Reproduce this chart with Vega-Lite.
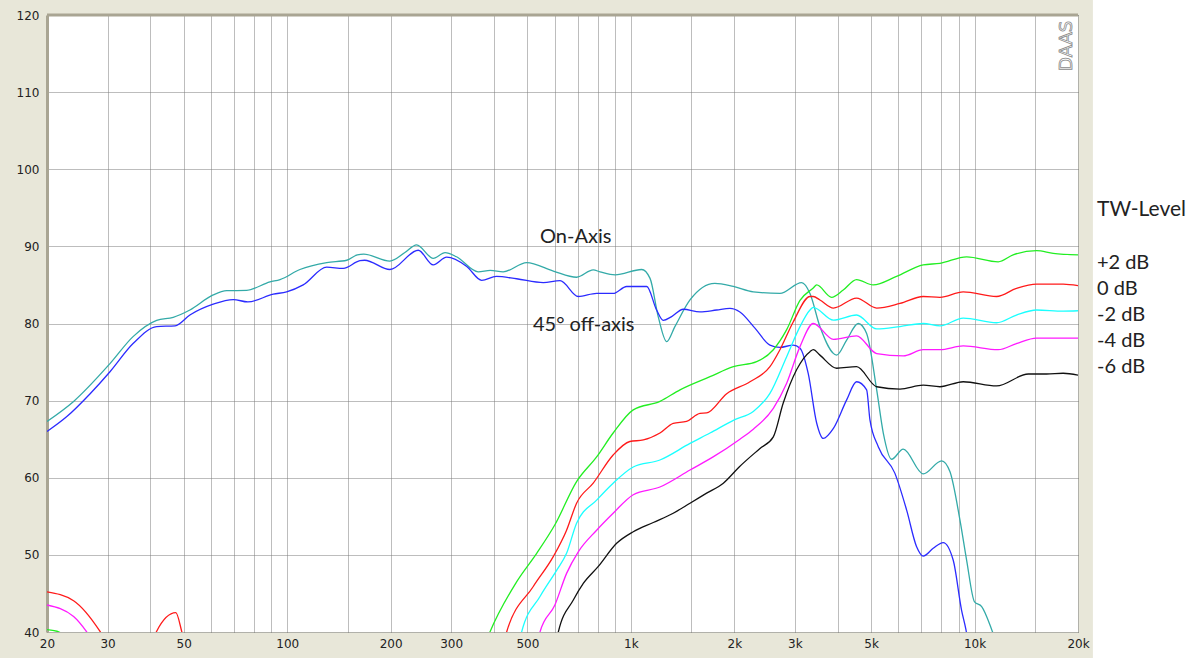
{
  "$schema": "https://vega.github.io/schema/vega-lite/v6.json",
  "width": 1031,
  "height": 617,
  "autosize": {"type": "none"},
  "padding": {"left": 47, "top": 15, "right": 125, "bottom": 26},
  "background": "#e8e7d9",
  "config": {
    "view": {"stroke": null, "fill": "white"},
    "axis": {"labelFont": "DejaVu Sans", "labelFontSize": 12, "labelColor": "#222222"},
    "text": {"font": "Lato"}
  },
  "datasets": {
    "curves": [
      {"series": "On-Axis", "seg": "a", "freq": 20, "db": 67.3},
      {"series": "On-Axis", "seg": "a", "freq": 23.9, "db": 69.9},
      {"series": "On-Axis", "seg": "a", "freq": 30.5, "db": 74.8},
      {"series": "On-Axis", "seg": "a", "freq": 35.6, "db": 78.3},
      {"series": "On-Axis", "seg": "a", "freq": 41.7, "db": 80.4},
      {"series": "On-Axis", "seg": "a", "freq": 46.6, "db": 80.8},
      {"series": "On-Axis", "seg": "a", "freq": 52.1, "db": 81.75},
      {"series": "On-Axis", "seg": "a", "freq": 60.9, "db": 83.7},
      {"series": "On-Axis", "seg": "a", "freq": 66.7, "db": 84.25},
      {"series": "On-Axis", "seg": "a", "freq": 76.2, "db": 84.3},
      {"series": "On-Axis", "seg": "a", "freq": 89.1, "db": 85.4},
      {"series": "On-Axis", "seg": "a", "freq": 95.3, "db": 85.7},
      {"series": "On-Axis", "seg": "a", "freq": 108.9, "db": 87.0},
      {"series": "On-Axis", "seg": "a", "freq": 130.3, "db": 87.9},
      {"series": "On-Axis", "seg": "a", "freq": 149, "db": 88.2},
      {"series": "On-Axis", "seg": "a", "freq": 160, "db": 88.9},
      {"series": "On-Axis", "seg": "a", "freq": 167, "db": 89.0},
      {"series": "On-Axis", "seg": "a", "freq": 199, "db": 88.1},
      {"series": "On-Axis", "seg": "a", "freq": 220, "db": 89.2},
      {"series": "On-Axis", "seg": "a", "freq": 238, "db": 90.2},
      {"series": "On-Axis", "seg": "a", "freq": 266, "db": 88.45},
      {"series": "On-Axis", "seg": "a", "freq": 288, "db": 89.2},
      {"series": "On-Axis", "seg": "a", "freq": 311, "db": 88.65},
      {"series": "On-Axis", "seg": "a", "freq": 359.6, "db": 86.7},
      {"series": "On-Axis", "seg": "a", "freq": 390, "db": 86.9},
      {"series": "On-Axis", "seg": "a", "freq": 425, "db": 86.7},
      {"series": "On-Axis", "seg": "a", "freq": 497.5, "db": 87.9},
      {"series": "On-Axis", "seg": "a", "freq": 594.8, "db": 86.8},
      {"series": "On-Axis", "seg": "a", "freq": 695, "db": 86.0},
      {"series": "On-Axis", "seg": "a", "freq": 777, "db": 86.95},
      {"series": "On-Axis", "seg": "a", "freq": 813, "db": 86.7},
      {"series": "On-Axis", "seg": "a", "freq": 900, "db": 86.3},
      {"series": "On-Axis", "seg": "a", "freq": 1075, "db": 87.0},
      {"series": "On-Axis", "seg": "a", "freq": 1137, "db": 85.85},
      {"series": "On-Axis", "seg": "a", "freq": 1201, "db": 80.9},
      {"series": "On-Axis", "seg": "a", "freq": 1271, "db": 77.65},
      {"series": "On-Axis", "seg": "a", "freq": 1343, "db": 79.6},
      {"series": "On-Axis", "seg": "a", "freq": 1486, "db": 83.05},
      {"series": "On-Axis", "seg": "a", "freq": 1756, "db": 85.2},
      {"series": "On-Axis", "seg": "a", "freq": 1987, "db": 84.8},
      {"series": "On-Axis", "seg": "a", "freq": 2271, "db": 84.1},
      {"series": "On-Axis", "seg": "a", "freq": 2715, "db": 83.9},
      {"series": "On-Axis", "seg": "a", "freq": 3139, "db": 85.3},
      {"series": "On-Axis", "seg": "a", "freq": 3320, "db": 83.9},
      {"series": "On-Axis", "seg": "a", "freq": 3549, "db": 79.6},
      {"series": "On-Axis", "seg": "a", "freq": 3970, "db": 75.9},
      {"series": "On-Axis", "seg": "a", "freq": 4245, "db": 77.85},
      {"series": "On-Axis", "seg": "a", "freq": 4587, "db": 80.0},
      {"series": "On-Axis", "seg": "a", "freq": 4853, "db": 78.7},
      {"series": "On-Axis", "seg": "a", "freq": 5191, "db": 71.4},
      {"series": "On-Axis", "seg": "a", "freq": 5426, "db": 65.8},
      {"series": "On-Axis", "seg": "a", "freq": 5735, "db": 62.4},
      {"series": "On-Axis", "seg": "a", "freq": 6201, "db": 63.7},
      {"series": "On-Axis", "seg": "a", "freq": 7090, "db": 60.5},
      {"series": "On-Axis", "seg": "a", "freq": 8021, "db": 62.2},
      {"series": "On-Axis", "seg": "a", "freq": 8479, "db": 60.8},
      {"series": "On-Axis", "seg": "a", "freq": 9069, "db": 54.5},
      {"series": "On-Axis", "seg": "a", "freq": 9484, "db": 49.3},
      {"series": "On-Axis", "seg": "a", "freq": 10000, "db": 43.9},
      {"series": "On-Axis", "seg": "a", "freq": 10490, "db": 43.3},
      {"series": "On-Axis", "seg": "a", "freq": 11220, "db": 40.3},
      {"series": "On-Axis", "seg": "a", "freq": 11600, "db": 38.5},

      {"series": "45° off-axis", "seg": "a", "freq": 20, "db": 66.0},
      {"series": "45° off-axis", "seg": "a", "freq": 22.8, "db": 67.9},
      {"series": "45° off-axis", "seg": "a", "freq": 26.7, "db": 70.9},
      {"series": "45° off-axis", "seg": "a", "freq": 30.5, "db": 73.75},
      {"series": "45° off-axis", "seg": "a", "freq": 35.6, "db": 77.4},
      {"series": "45° off-axis", "seg": "a", "freq": 41.7, "db": 79.6},
      {"series": "45° off-axis", "seg": "a", "freq": 47.2, "db": 79.7},
      {"series": "45° off-axis", "seg": "a", "freq": 52.1, "db": 81.1},
      {"series": "45° off-axis", "seg": "a", "freq": 60.9, "db": 82.5},
      {"series": "45° off-axis", "seg": "a", "freq": 69.7, "db": 83.1},
      {"series": "45° off-axis", "seg": "a", "freq": 76.8, "db": 82.8},
      {"series": "45° off-axis", "seg": "a", "freq": 91.1, "db": 83.8},
      {"series": "45° off-axis", "seg": "a", "freq": 99.6, "db": 84.1},
      {"series": "45° off-axis", "seg": "a", "freq": 111.3, "db": 85.0},
      {"series": "45° off-axis", "seg": "a", "freq": 130.3, "db": 87.3},
      {"series": "45° off-axis", "seg": "a", "freq": 145.6, "db": 87.15},
      {"series": "45° off-axis", "seg": "a", "freq": 162.8, "db": 88.15},
      {"series": "45° off-axis", "seg": "a", "freq": 168, "db": 88.2},
      {"series": "45° off-axis", "seg": "a", "freq": 199, "db": 87.0},
      {"series": "45° off-axis", "seg": "a", "freq": 240.6, "db": 89.5},
      {"series": "45° off-axis", "seg": "a", "freq": 266, "db": 87.6},
      {"series": "45° off-axis", "seg": "a", "freq": 291, "db": 88.6},
      {"series": "45° off-axis", "seg": "a", "freq": 333, "db": 87.4},
      {"series": "45° off-axis", "seg": "a", "freq": 368, "db": 85.6},
      {"series": "45° off-axis", "seg": "a", "freq": 406, "db": 86.1},
      {"series": "45° off-axis", "seg": "a", "freq": 465, "db": 85.8},
      {"series": "45° off-axis", "seg": "a", "freq": 556, "db": 85.3},
      {"series": "45° off-axis", "seg": "a", "freq": 622, "db": 85.55},
      {"series": "45° off-axis", "seg": "a", "freq": 703, "db": 83.5},
      {"series": "45° off-axis", "seg": "a", "freq": 795, "db": 83.9},
      {"series": "45° off-axis", "seg": "a", "freq": 888, "db": 83.9},
      {"series": "45° off-axis", "seg": "a", "freq": 972, "db": 84.8},
      {"series": "45° off-axis", "seg": "a", "freq": 1112, "db": 84.8},
      {"series": "45° off-axis", "seg": "a", "freq": 1188, "db": 81.75},
      {"series": "45° off-axis", "seg": "a", "freq": 1242, "db": 80.4},
      {"series": "45° off-axis", "seg": "a", "freq": 1314, "db": 80.9},
      {"series": "45° off-axis", "seg": "a", "freq": 1420, "db": 81.85},
      {"series": "45° off-axis", "seg": "a", "freq": 1589, "db": 81.5},
      {"series": "45° off-axis", "seg": "a", "freq": 1777, "db": 81.75},
      {"series": "45° off-axis", "seg": "a", "freq": 1942, "db": 81.95},
      {"series": "45° off-axis", "seg": "a", "freq": 2076, "db": 81.5},
      {"series": "45° off-axis", "seg": "a", "freq": 2296, "db": 79.4},
      {"series": "45° off-axis", "seg": "a", "freq": 2539, "db": 77.2},
      {"series": "45° off-axis", "seg": "a", "freq": 2715, "db": 76.9},
      {"series": "45° off-axis", "seg": "a", "freq": 2967, "db": 77.2},
      {"series": "45° off-axis", "seg": "a", "freq": 3105, "db": 76.8},
      {"series": "45° off-axis", "seg": "a", "freq": 3282, "db": 73.5},
      {"series": "45° off-axis", "seg": "a", "freq": 3472, "db": 67.1},
      {"series": "45° off-axis", "seg": "a", "freq": 3628, "db": 65.1},
      {"series": "45° off-axis", "seg": "a", "freq": 3884, "db": 66.4},
      {"series": "45° off-axis", "seg": "a", "freq": 4245, "db": 70.1},
      {"series": "45° off-axis", "seg": "a", "freq": 4536, "db": 72.45},
      {"series": "45° off-axis", "seg": "a", "freq": 4853, "db": 71.4},
      {"series": "45° off-axis", "seg": "a", "freq": 4962, "db": 67.5},
      {"series": "45° off-axis", "seg": "a", "freq": 5250, "db": 64.0},
      {"series": "45° off-axis", "seg": "a", "freq": 5862, "db": 60.6},
      {"series": "45° off-axis", "seg": "a", "freq": 6345, "db": 55.8},
      {"series": "45° off-axis", "seg": "a", "freq": 6778, "db": 51.1},
      {"series": "45° off-axis", "seg": "a", "freq": 7090, "db": 49.85},
      {"series": "45° off-axis", "seg": "a", "freq": 7581, "db": 50.85},
      {"series": "45° off-axis", "seg": "a", "freq": 8105, "db": 51.6},
      {"series": "45° off-axis", "seg": "a", "freq": 8670, "db": 49.3},
      {"series": "45° off-axis", "seg": "a", "freq": 9165, "db": 42.85},
      {"series": "45° off-axis", "seg": "a", "freq": 9440, "db": 40.3},
      {"series": "45° off-axis", "seg": "a", "freq": 9600, "db": 38.5},

      {"series": "+2 dB", "seg": "low", "freq": 20, "db": 40.3},
      {"series": "+2 dB", "seg": "low", "freq": 21.7, "db": 40.0},
      {"series": "+2 dB", "seg": "low", "freq": 22.5, "db": 39.0},
      {"series": "+2 dB", "seg": "a", "freq": 370, "db": 37.5},
      {"series": "+2 dB", "seg": "a", "freq": 389, "db": 40.0},
      {"series": "+2 dB", "seg": "a", "freq": 465, "db": 46.5},
      {"series": "+2 dB", "seg": "a", "freq": 532, "db": 50.2},
      {"series": "+2 dB", "seg": "a", "freq": 601, "db": 53.9},
      {"series": "+2 dB", "seg": "a", "freq": 695, "db": 59.5},
      {"series": "+2 dB", "seg": "a", "freq": 795, "db": 62.7},
      {"series": "+2 dB", "seg": "a", "freq": 888, "db": 65.8},
      {"series": "+2 dB", "seg": "a", "freq": 1016, "db": 68.8},
      {"series": "+2 dB", "seg": "a", "freq": 1215, "db": 69.9},
      {"series": "+2 dB", "seg": "a", "freq": 1390, "db": 71.4},
      {"series": "+2 dB", "seg": "a", "freq": 1699, "db": 73.1},
      {"series": "+2 dB", "seg": "a", "freq": 1987, "db": 74.4},
      {"series": "+2 dB", "seg": "a", "freq": 2323, "db": 75.05},
      {"series": "+2 dB", "seg": "a", "freq": 2597, "db": 76.6},
      {"series": "+2 dB", "seg": "a", "freq": 2840, "db": 79.2},
      {"series": "+2 dB", "seg": "a", "freq": 3105, "db": 83.0},
      {"series": "+2 dB", "seg": "a", "freq": 3394, "db": 84.6},
      {"series": "+2 dB", "seg": "a", "freq": 3472, "db": 85.0},
      {"series": "+2 dB", "seg": "a", "freq": 3838, "db": 83.4},
      {"series": "+2 dB", "seg": "a", "freq": 4149, "db": 84.35},
      {"series": "+2 dB", "seg": "a", "freq": 4536, "db": 85.7},
      {"series": "+2 dB", "seg": "a", "freq": 5069, "db": 85.0},
      {"series": "+2 dB", "seg": "a", "freq": 5929, "db": 86.1},
      {"series": "+2 dB", "seg": "a", "freq": 7090, "db": 87.6},
      {"series": "+2 dB", "seg": "a", "freq": 7930, "db": 87.8},
      {"series": "+2 dB", "seg": "a", "freq": 9484, "db": 88.65},
      {"series": "+2 dB", "seg": "a", "freq": 11720, "db": 88.0},
      {"series": "+2 dB", "seg": "a", "freq": 12950, "db": 88.9},
      {"series": "+2 dB", "seg": "a", "freq": 15150, "db": 89.45},
      {"series": "+2 dB", "seg": "a", "freq": 16940, "db": 89.1},
      {"series": "+2 dB", "seg": "a", "freq": 20000, "db": 88.9},

      {"series": "0 dB", "seg": "low1", "freq": 20, "db": 45.2},
      {"series": "0 dB", "seg": "low1", "freq": 23.9, "db": 44.05},
      {"series": "0 dB", "seg": "low1", "freq": 28.5, "db": 40.1},
      {"series": "0 dB", "seg": "low1", "freq": 30, "db": 38.5},
      {"series": "0 dB", "seg": "low2", "freq": 40.5, "db": 38.5},
      {"series": "0 dB", "seg": "low2", "freq": 41.7, "db": 40.1},
      {"series": "0 dB", "seg": "low2", "freq": 47.4, "db": 42.5},
      {"series": "0 dB", "seg": "low2", "freq": 49.3, "db": 40.1},
      {"series": "0 dB", "seg": "low2", "freq": 50, "db": 39.0},
      {"series": "0 dB", "seg": "a", "freq": 420, "db": 37.5},
      {"series": "0 dB", "seg": "a", "freq": 435, "db": 40.0},
      {"series": "0 dB", "seg": "a", "freq": 520, "db": 45.9},
      {"series": "0 dB", "seg": "a", "freq": 595, "db": 49.8},
      {"series": "0 dB", "seg": "a", "freq": 650, "db": 53.2},
      {"series": "0 dB", "seg": "a", "freq": 695, "db": 56.7},
      {"series": "0 dB", "seg": "a", "freq": 777, "db": 59.3},
      {"series": "0 dB", "seg": "a", "freq": 888, "db": 62.95},
      {"series": "0 dB", "seg": "a", "freq": 993, "db": 64.7},
      {"series": "0 dB", "seg": "a", "freq": 1087, "db": 64.9},
      {"series": "0 dB", "seg": "a", "freq": 1215, "db": 65.8},
      {"series": "0 dB", "seg": "a", "freq": 1328, "db": 67.05},
      {"series": "0 dB", "seg": "a", "freq": 1452, "db": 67.3},
      {"series": "0 dB", "seg": "a", "freq": 1589, "db": 68.35},
      {"series": "0 dB", "seg": "a", "freq": 1661, "db": 68.4},
      {"series": "0 dB", "seg": "a", "freq": 1900, "db": 70.9},
      {"series": "0 dB", "seg": "a", "freq": 2221, "db": 72.45},
      {"series": "0 dB", "seg": "a", "freq": 2539, "db": 74.4},
      {"series": "0 dB", "seg": "a", "freq": 2715, "db": 76.6},
      {"series": "0 dB", "seg": "a", "freq": 2967, "db": 80.2},
      {"series": "0 dB", "seg": "a", "freq": 3320, "db": 83.5},
      {"series": "0 dB", "seg": "a", "freq": 3394, "db": 83.5},
      {"series": "0 dB", "seg": "a", "freq": 3549, "db": 83.05},
      {"series": "0 dB", "seg": "a", "freq": 3884, "db": 82.0},
      {"series": "0 dB", "seg": "a", "freq": 4536, "db": 83.3},
      {"series": "0 dB", "seg": "a", "freq": 5191, "db": 82.0},
      {"series": "0 dB", "seg": "a", "freq": 6066, "db": 82.6},
      {"series": "0 dB", "seg": "a", "freq": 7090, "db": 83.5},
      {"series": "0 dB", "seg": "a", "freq": 7930, "db": 83.4},
      {"series": "0 dB", "seg": "a", "freq": 9271, "db": 84.1},
      {"series": "0 dB", "seg": "a", "freq": 11590, "db": 83.5},
      {"series": "0 dB", "seg": "a", "freq": 13240, "db": 84.55},
      {"series": "0 dB", "seg": "a", "freq": 15150, "db": 85.1},
      {"series": "0 dB", "seg": "a", "freq": 18110, "db": 85.1},
      {"series": "0 dB", "seg": "a", "freq": 20000, "db": 84.9},

      {"series": "-2 dB", "seg": "a", "freq": 470, "db": 37.5},
      {"series": "-2 dB", "seg": "a", "freq": 481, "db": 40.0},
      {"series": "-2 dB", "seg": "a", "freq": 544, "db": 44.6},
      {"series": "-2 dB", "seg": "a", "freq": 608, "db": 48.0},
      {"series": "-2 dB", "seg": "a", "freq": 650, "db": 50.2},
      {"series": "-2 dB", "seg": "a", "freq": 695, "db": 54.1},
      {"series": "-2 dB", "seg": "a", "freq": 795, "db": 57.1},
      {"series": "-2 dB", "seg": "a", "freq": 888, "db": 59.3},
      {"series": "-2 dB", "seg": "a", "freq": 1016, "db": 61.4},
      {"series": "-2 dB", "seg": "a", "freq": 1215, "db": 62.3},
      {"series": "-2 dB", "seg": "a", "freq": 1486, "db": 64.45},
      {"series": "-2 dB", "seg": "a", "freq": 1699, "db": 65.8},
      {"series": "-2 dB", "seg": "a", "freq": 2000, "db": 67.5},
      {"series": "-2 dB", "seg": "a", "freq": 2271, "db": 68.6},
      {"series": "-2 dB", "seg": "a", "freq": 2539, "db": 70.95},
      {"series": "-2 dB", "seg": "a", "freq": 2840, "db": 75.7},
      {"series": "-2 dB", "seg": "a", "freq": 3105, "db": 79.6},
      {"series": "-2 dB", "seg": "a", "freq": 3320, "db": 81.75},
      {"series": "-2 dB", "seg": "a", "freq": 3394, "db": 82.1},
      {"series": "-2 dB", "seg": "a", "freq": 3884, "db": 80.45},
      {"series": "-2 dB", "seg": "a", "freq": 4536, "db": 81.1},
      {"series": "-2 dB", "seg": "a", "freq": 5191, "db": 79.3},
      {"series": "-2 dB", "seg": "a", "freq": 6066, "db": 79.6},
      {"series": "-2 dB", "seg": "a", "freq": 7090, "db": 80.0},
      {"series": "-2 dB", "seg": "a", "freq": 7930, "db": 79.7},
      {"series": "-2 dB", "seg": "a", "freq": 9271, "db": 80.7},
      {"series": "-2 dB", "seg": "a", "freq": 11590, "db": 80.1},
      {"series": "-2 dB", "seg": "a", "freq": 13240, "db": 81.1},
      {"series": "-2 dB", "seg": "a", "freq": 15150, "db": 81.75},
      {"series": "-2 dB", "seg": "a", "freq": 18110, "db": 81.6},
      {"series": "-2 dB", "seg": "a", "freq": 20000, "db": 81.65},

      {"series": "-4 dB", "seg": "low", "freq": 20, "db": 43.5},
      {"series": "-4 dB", "seg": "low", "freq": 23.9, "db": 42.0},
      {"series": "-4 dB", "seg": "low", "freq": 26.0, "db": 40.1},
      {"series": "-4 dB", "seg": "low", "freq": 27, "db": 39.0},
      {"series": "-4 dB", "seg": "a", "freq": 530, "db": 37.5},
      {"series": "-4 dB", "seg": "a", "freq": 544, "db": 40.0},
      {"series": "-4 dB", "seg": "a", "freq": 601, "db": 43.5},
      {"series": "-4 dB", "seg": "a", "freq": 650, "db": 47.6},
      {"series": "-4 dB", "seg": "a", "freq": 703, "db": 50.4},
      {"series": "-4 dB", "seg": "a", "freq": 795, "db": 53.2},
      {"series": "-4 dB", "seg": "a", "freq": 888, "db": 55.4},
      {"series": "-4 dB", "seg": "a", "freq": 1016, "db": 57.8},
      {"series": "-4 dB", "seg": "a", "freq": 1215, "db": 58.8},
      {"series": "-4 dB", "seg": "a", "freq": 1486, "db": 61.0},
      {"series": "-4 dB", "seg": "a", "freq": 1735, "db": 62.7},
      {"series": "-4 dB", "seg": "a", "freq": 2076, "db": 65.0},
      {"series": "-4 dB", "seg": "a", "freq": 2271, "db": 66.3},
      {"series": "-4 dB", "seg": "a", "freq": 2597, "db": 69.0},
      {"series": "-4 dB", "seg": "a", "freq": 2840, "db": 72.25},
      {"series": "-4 dB", "seg": "a", "freq": 3105, "db": 77.0},
      {"series": "-4 dB", "seg": "a", "freq": 3394, "db": 80.0},
      {"series": "-4 dB", "seg": "a", "freq": 3884, "db": 77.95},
      {"series": "-4 dB", "seg": "a", "freq": 4536, "db": 78.4},
      {"series": "-4 dB", "seg": "a", "freq": 5191, "db": 76.1},
      {"series": "-4 dB", "seg": "a", "freq": 6201, "db": 75.8},
      {"series": "-4 dB", "seg": "a", "freq": 7090, "db": 76.6},
      {"series": "-4 dB", "seg": "a", "freq": 7930, "db": 76.6},
      {"series": "-4 dB", "seg": "a", "freq": 9271, "db": 77.1},
      {"series": "-4 dB", "seg": "a", "freq": 11720, "db": 76.6},
      {"series": "-4 dB", "seg": "a", "freq": 13240, "db": 77.4},
      {"series": "-4 dB", "seg": "a", "freq": 15150, "db": 78.1},
      {"series": "-4 dB", "seg": "a", "freq": 20000, "db": 78.1},

      {"series": "-6 dB", "seg": "a", "freq": 600, "db": 37.5},
      {"series": "-6 dB", "seg": "a", "freq": 615, "db": 40.0},
      {"series": "-6 dB", "seg": "a", "freq": 680, "db": 44.15},
      {"series": "-6 dB", "seg": "a", "freq": 727, "db": 46.3},
      {"series": "-6 dB", "seg": "a", "freq": 804, "db": 48.5},
      {"series": "-6 dB", "seg": "a", "freq": 909, "db": 51.5},
      {"series": "-6 dB", "seg": "a", "freq": 1016, "db": 53.0},
      {"series": "-6 dB", "seg": "a", "freq": 1162, "db": 54.2},
      {"series": "-6 dB", "seg": "a", "freq": 1328, "db": 55.4},
      {"series": "-6 dB", "seg": "a", "freq": 1486, "db": 56.7},
      {"series": "-6 dB", "seg": "a", "freq": 1661, "db": 58.0},
      {"series": "-6 dB", "seg": "a", "freq": 1858, "db": 59.3},
      {"series": "-6 dB", "seg": "a", "freq": 2066, "db": 61.4},
      {"series": "-6 dB", "seg": "a", "freq": 2375, "db": 63.8},
      {"series": "-6 dB", "seg": "a", "freq": 2597, "db": 65.3},
      {"series": "-6 dB", "seg": "a", "freq": 2774, "db": 69.65},
      {"series": "-6 dB", "seg": "a", "freq": 3035, "db": 74.0},
      {"series": "-6 dB", "seg": "a", "freq": 3320, "db": 76.35},
      {"series": "-6 dB", "seg": "a", "freq": 3394, "db": 76.6},
      {"series": "-6 dB", "seg": "a", "freq": 3549, "db": 75.9},
      {"series": "-6 dB", "seg": "a", "freq": 3970, "db": 74.2},
      {"series": "-6 dB", "seg": "a", "freq": 4536, "db": 74.4},
      {"series": "-6 dB", "seg": "a", "freq": 5191, "db": 71.8},
      {"series": "-6 dB", "seg": "a", "freq": 6066, "db": 71.5},
      {"series": "-6 dB", "seg": "a", "freq": 7090, "db": 72.0},
      {"series": "-6 dB", "seg": "a", "freq": 7930, "db": 71.8},
      {"series": "-6 dB", "seg": "a", "freq": 9271, "db": 72.45},
      {"series": "-6 dB", "seg": "a", "freq": 11590, "db": 71.9},
      {"series": "-6 dB", "seg": "a", "freq": 14340, "db": 73.45},
      {"series": "-6 dB", "seg": "a", "freq": 16200, "db": 73.45},
      {"series": "-6 dB", "seg": "a", "freq": 18110, "db": 73.55},
      {"series": "-6 dB", "seg": "a", "freq": 20000, "db": 73.3}
    ],
    "notes": [
      {"label": "On-Axis", "freq": 544, "db": 91.2},
      {"label": "45° off-axis", "freq": 519, "db": 79.8}
    ],
    "brand": [
      {"label": "DAAS", "freq": 18570, "db": 116}
    ],
    "frame": [
      {"part": "top edge"}
    ]
  },
  "layer": [
    {
      "data": {"name": "curves"},
      "mark": {"type": "line", "clip": true, "strokeWidth": 1.3, "interpolate": "monotone"},
      "encoding": {
        "x": {"field": "freq", "type": "quantitative", "scale": {"type": "log", "domain": [20, 20000], "nice": false},
              "axis": {"orient": "bottom", "title": null, "domain": false, "ticks": false, "labelPadding": 6,
                       "values": [20,30,40,50,60,70,80,90,100,150,200,300,400,500,600,700,800,900,1000,1500,2000,3000,4000,5000,6000,7000,8000,9000,10000,15000,20000],
                       "labelExpr": "indexof([20,30,50,100,200,300,500,1000,2000,3000,5000,10000,20000], datum.value) >= 0 ? (datum.value >= 1000 ? (datum.value / 1000) + 'k' : '' + datum.value) : ''",
                       "labelOverlap": false, "labelFlush": false, "labelBound": false,
                       "grid": true, "gridColor": "#7a7a7a", "gridDash": [1, 1], "gridWidth": 1}},
        "y": {"field": "db", "type": "quantitative", "scale": {"domain": [40, 120], "nice": false},
              "axis": {"orient": "left", "title": null, "values": [40,50,60,70,80,90,100,110,120], "ticks": false, "labelPadding": 8,
                       "labelOverlap": false, "labelFlush": false, "labelBound": false,
                       "domain": true, "domainColor": "#a9a593", "domainWidth": 3,
                       "grid": true, "gridColor": "#7a7a7a", "gridDash": [1, 1], "gridWidth": 1}},
        "color": {"field": "series", "type": "nominal",
                  "scale": {"domain": ["On-Axis", "45° off-axis", "+2 dB", "0 dB", "-2 dB", "-4 dB", "-6 dB"],
                            "range": ["#33aaa8", "#2b2bff", "#22ee22", "#ff1a1a", "#1affff", "#ff1aff", "#111111"]},
                  "legend": {"title": "TW-Level", "values": ["+2 dB", "0 dB", "-2 dB", "-4 dB", "-6 dB"],
                             "orient": "none", "legendX": 1050, "legendY": 184, "padding": 0,
                             "titleFont": "Lato", "titleFontSize": 21, "titleFontWeight": "normal", "titleColor": "#222222", "titlePadding": 33,
                             "labelFont": "Lato", "labelFontSize": 20, "labelColor": "#222222", "labelOffset": -20,
                             "symbolType": "circle", "symbolSize": 0, "symbolOpacity": 0, "symbolStrokeWidth": 0, "rowPadding": 6}},
        "detail": {"field": "seg", "type": "nominal"}
      }
    },
    {
      "data": {"name": "frame"},
      "mark": {"type": "rect", "fill": "white", "clip": false},
      "encoding": {
        "x": {"datum": 22100, "type": "quantitative", "scale": {"type": "log", "domain": [20, 20000], "nice": false}, "axis": {"title": null}},
        "x2": {"datum": 1000000},
        "y": {"datum": 200, "type": "quantitative", "scale": {"domain": [40, 120], "nice": false}, "axis": {"title": null}},
        "y2": {"datum": 0}
      }
    },
    {
      "data": {"name": "frame"},
      "mark": {"type": "rule", "color": "#a9a593", "strokeWidth": 3, "clip": false},
      "encoding": {
        "y": {"datum": 120, "type": "quantitative", "scale": {"domain": [40, 120], "nice": false}, "axis": {"title": null}}
      }
    },
    {
      "data": {"name": "notes"},
      "mark": {"type": "text", "align": "left", "baseline": "middle", "fontSize": 20, "color": "#222222"},
      "encoding": {
        "x": {"field": "freq", "type": "quantitative", "scale": {"type": "log", "domain": [20, 20000], "nice": false}, "axis": {"title": null}},
        "y": {"field": "db", "type": "quantitative", "scale": {"domain": [40, 120], "nice": false}, "axis": {"title": null}},
        "text": {"field": "label"}
      }
    },
    {
      "data": {"name": "brand"},
      "mark": {"type": "text", "align": "center", "baseline": "middle", "angle": 270, "fontSize": 18, "font": "DejaVu Sans", "fill": "white", "stroke": "#8a8a8a", "strokeWidth": 0.8},
      "encoding": {
        "x": {"field": "freq", "type": "quantitative", "scale": {"type": "log", "domain": [20, 20000], "nice": false}, "axis": {"title": null}},
        "y": {"field": "db", "type": "quantitative", "scale": {"domain": [40, 120], "nice": false}, "axis": {"title": null}},
        "text": {"field": "label"}
      }
    }
  ]
}
